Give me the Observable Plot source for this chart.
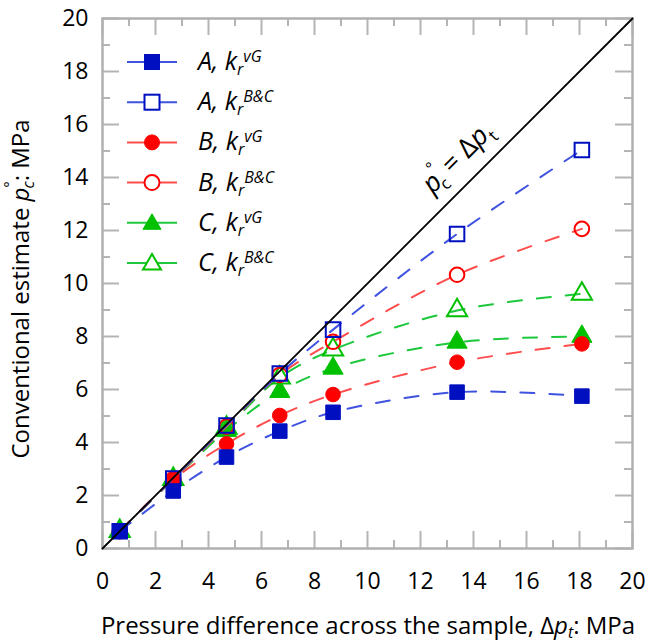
<!DOCTYPE html>
<html>
<head>
<meta charset="utf-8">
<script src="https://cdn.jsdelivr.net/npm/d3@7"></script>
<script src="https://cdn.jsdelivr.net/npm/@observablehq/plot@0.6"></script>
<style>
  body { margin: 0; background: #fff; }
  #wrap { position: relative; width: 648px; height: 643px; font-family: "Open Sans", sans-serif; }
  #wrap > svg { position: absolute; left: 0; top: 0; }
  #overlay { pointer-events: none; }
</style>
</head>
<body>
<div id="wrap"></div>
<script>
// ---- data ----
const pressureDiff = [0.65, 2.67, 4.68, 6.69, 8.7, 13.38, 18.09];
const A_vG = [0.65, 2.17, 3.45, 4.43, 5.14, 5.9, 5.75];
const A_BC = [0.65, 2.64, 4.64, 6.6, 8.26, 11.87, 15.04];
const B_vG = [0.65, 2.6, 3.95, 5.02, 5.81, 7.03, 7.72];
const B_BC = [0.65, 2.62, 4.6, 6.55, 7.8, 10.33, 12.06];
const C_vG = [0.65, 2.6, 4.45, 5.92, 6.8, 7.78, 8.0];
const C_BC = [0.65, 2.62, 4.55, 6.45, 7.5, 8.98, 9.61];
const seriesNames = ["A", "A", "B", "B", "C", "C"];
const seriesKr = ["vG", "B&C", "vG", "B&C", "vG", "B&C"];
const majorTicks = [0, 2, 4, 6, 8, 10, 12, 14, 16, 18, 20];
const minorTicks = [1, 3, 5, 7, 9, 11, 13, 15, 17, 19];
const identityLine = [0, 20];
const annotation = [{x: 13.4, y: 14.75, label: "ANNOT"}];

// ---- styles ----
const seriesVals = [A_vG, A_BC, B_vG, B_BC, C_vG, C_BC];
const lineColors = ["#3f52e0", "#3f52e0", "#ff4d4d", "#ff4d4d", "#1ec83c", "#1ec83c"];
const markColors = ["#0010c0", "#0010c0", "#ff0000", "#ff0000", "#00c000", "#00c000"];
const symbols = ["square", "square", "circle", "circle", "triangle", "triangle"];
const filled = [true, false, true, false, true, false];
const radii = {square: 8.2, circle: 7.3, triangle: 7.5};
const drawOrder = [5, 4, 3, 2, 1, 0];

const W = 648, H = 643, mL = 102, mR = 16, mT = 18, mB = 95;
const plotW = W - mL - mR, plotH = H - mT - mB;
const tickCol = "#b4b4b4";

const marks = [];
// inward ticks on all four sides
marks.push(Plot.ruleX(majorTicks, {x: d => d, insetTop: plotH - 17, stroke: tickCol, strokeWidth: 2}));
marks.push(Plot.ruleX(minorTicks, {x: d => d, insetTop: plotH - 8, stroke: tickCol, strokeWidth: 2}));
marks.push(Plot.ruleX(majorTicks, {x: d => d, insetBottom: plotH - 17, stroke: tickCol, strokeWidth: 2}));
marks.push(Plot.ruleX(minorTicks, {x: d => d, insetBottom: plotH - 8, stroke: tickCol, strokeWidth: 2}));
marks.push(Plot.ruleY(majorTicks, {y: d => d, insetRight: plotW - 17, stroke: tickCol, strokeWidth: 2}));
marks.push(Plot.ruleY(minorTicks, {y: d => d, insetRight: plotW - 8, stroke: tickCol, strokeWidth: 2}));
marks.push(Plot.ruleY(majorTicks, {y: d => d, insetLeft: plotW - 17, stroke: tickCol, strokeWidth: 2}));
marks.push(Plot.ruleY(minorTicks, {y: d => d, insetLeft: plotW - 8, stroke: tickCol, strokeWidth: 2}));
marks.push(Plot.frame({stroke: "#b0b0b0", strokeWidth: 2.5}));
marks.push(Plot.axisX({ticks: majorTicks, tickSize: 0, tickPadding: 24, fontSize: 23, label: null, tickFormat: d => String(d)}));
marks.push(Plot.axisY({ticks: majorTicks, tickSize: 0, tickPadding: 14, fontSize: 23, label: null, tickFormat: d => String(d)}));

drawOrder.forEach(i => {
  const vals = seriesVals[i];
  const data = pressureDiff.map((x, j) => ({x, y: vals[j]}));
  marks.push(Plot.line(data, {x: "x", y: "y", curve: "catmull-rom", stroke: lineColors[i], strokeWidth: 2, strokeDasharray: "14,15"}));
  marks.push(Plot.dot(data, {
    x: "x", y: "y", symbol: symbols[i], r: radii[symbols[i]],
    fill: filled[i] ? markColors[i] : "none",
    stroke: markColors[i], strokeWidth: filled[i] ? 1 : 2
  }));
});
marks.push(Plot.line(identityLine, {x: d => d, y: d => d, stroke: "#000", strokeWidth: 1.8}));
marks.push(Plot.text(annotation, {x: "x", y: "y", text: "label", rotate: -45, fontSize: 27, fill: "#000", textAnchor: "middle", lineAnchor: "middle"}));

const chart = Plot.plot({
  width: W, height: H,
  marginLeft: mL, marginRight: mR, marginTop: mT, marginBottom: mB,
  x: {domain: [0, 20]},
  y: {domain: [0, 20]},
  style: {fontFamily: "Open Sans, sans-serif", background: "white", color: "#000"},
  marks
});
const wrap = document.getElementById("wrap");
wrap.appendChild(chart);

// rich text for the annotation
chart.querySelectorAll("text").forEach(t => {
  if (t.textContent === "ANNOT") {
    t.innerHTML = '<tspan font-style="italic">p</tspan><tspan font-size="16" dx="-1" dy="-15">°</tspan><tspan font-size="17" dx="-9" dy="22">c</tspan><tspan dy="-7"> = Δ</tspan><tspan font-style="italic">p</tspan><tspan font-size="17" dy="7">t</tspan>';
  }
});

// overlay: legend + axis titles
const NS = "http://www.w3.org/2000/svg";
const ov = document.createElementNS(NS, "svg");
ov.setAttribute("id", "overlay");
ov.setAttribute("width", W); ov.setAttribute("height", H);
ov.setAttribute("font-family", "Open Sans, sans-serif");
let html = "";
seriesVals.forEach((_, i) => {
  const cy = 62 + 40.2 * i, cx = 152;
  const c = markColors[i], f = filled[i] ? c : "#fff", sw = filled[i] ? 1 : 2;
  html += `<line x1="127" x2="177" y1="${cy}" y2="${cy}" stroke="${lineColors[i]}" stroke-width="2"/>`;
  if (symbols[i] === "square") html += `<rect x="${cx - 7.5}" y="${cy - 7.5}" width="15" height="15" fill="${f}" stroke="${c}" stroke-width="${sw}"/>`;
  else if (symbols[i] === "circle") html += `<circle cx="${cx}" cy="${cy}" r="7.5" fill="${f}" stroke="${c}" stroke-width="${sw}"/>`;
  else html += `<path d="M${cx},${cy - 9}L${cx + 9},${cy + 6.5}L${cx - 9},${cy + 6.5}Z" fill="${f}" stroke="${c}" stroke-width="${sw}"/>`;
  const kr = seriesKr[i].replace("&", "&amp;");
  html += `<text x="198" y="${cy + 8}" font-size="25" font-style="italic">${seriesNames[i]}, k<tspan font-size="16" dy="5">r</tspan><tspan font-size="16" dy="-13">${kr}</tspan></text>`;
});
html += `<text x="368" y="634" font-size="24" text-anchor="middle">Pressure difference across the sample, Δ<tspan font-style="italic">p</tspan><tspan font-style="italic" font-size="16" dy="4">t</tspan><tspan dy="-4">: MPa</tspan></text>`;
html += `<text transform="translate(29,289) rotate(-90)" font-size="24" text-anchor="middle">Conventional estimate <tspan font-style="italic">p</tspan><tspan font-size="14" dy="-14">°</tspan><tspan font-style="italic" font-size="16" dx="-7" dy="19">c</tspan><tspan dy="-5">: MPa</tspan></text>`;
ov.innerHTML = html;
wrap.appendChild(ov);
</script>
</body>
</html>
